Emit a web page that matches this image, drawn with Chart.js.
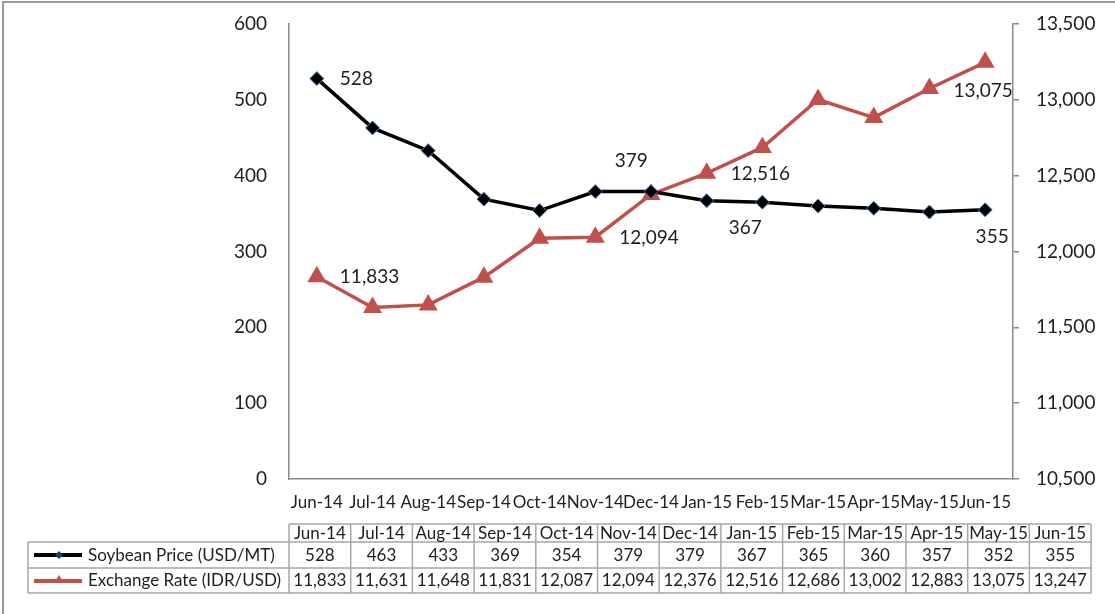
<!DOCTYPE html>
<html>
<head>
<meta charset="utf-8">
<script src="https://cdn.jsdelivr.net/npm/chart.js@4.4.0/dist/chart.umd.min.js"></script>
<style>
  body { margin: 0; background: #fff; }
  canvas { display: block; }
</style>
</head>
<body>
<canvas id="soyChart" width="1115" height="614"></canvas>
<script>
const months = ['Jun-14', 'Jul-14', 'Aug-14', 'Sep-14', 'Oct-14', 'Nov-14', 'Dec-14',
  'Jan-15', 'Feb-15', 'Mar-15', 'Apr-15', 'May-15', 'Jun-15']
const soybeanPrice = [528, 463, 433, 369, 354, 379, 379, 367, 365, 360, 357, 352, 355]
const exchangeRate = [11833, 11631, 11648, 11831, 12087, 12094, 12376, 12516, 12686, 13002, 12883, 13075, 13247]
const priceLabel = 'Soybean Price (USD/MT)'
const rateLabel = 'Exchange Rate (IDR/USD)'
// which points carry a value label
const priceLabelIdx = [0, 5, 7, 12]
const rateLabelIdx = [0, 5, 7, 11]

const FONT = 'Lato, "Open Sans", sans-serif'
const TEXT = '#1e1e1e'
const AXIS = '#8a8a8a'
const RED = '#C0504D'

const fmt = v => v.toLocaleString('en-US')

// value labels, placed beside the points
const pointLabels = {
  id: 'pointLabels',
  afterDatasetsDraw(chart) {
    const ctx = chart.ctx
    ctx.save()
    ctx.font = '19px ' + FONT
    ctx.fillStyle = TEXT
    ctx.textBaseline = 'middle'
    const place = {
      0: { 0: [23, 0, 'left'], 5: [36, -31, 'center'], 7: [22, 27, 'left'], 12: [7, 27, 'center'] },
      1: { 0: [23, 0, 'left'], 5: [24, 1, 'left'], 7: [24, 1, 'left'], 11: [24, 2, 'left'] },
    }
    const sets = [[soybeanPrice, priceLabelIdx], [exchangeRate, rateLabelIdx]]
    sets.forEach(([values, idx], d) => {
      const meta = chart.getDatasetMeta(d)
      idx.forEach(i => {
        const pt = meta.data[i]
        const [dx, dy, align] = place[d][i]
        ctx.textAlign = align
        ctx.fillText(fmt(values[i]), pt.x + dx, pt.y + dy)
      })
    })
    ctx.restore()
  }
}

// data table under the x axis, plus the outer frame
const dataTable = {
  id: 'dataTable',
  afterDraw(chart) {
    const ctx = chart.ctx
    const left = 289, colW = 61.7, labelLeft = 28
    const rows = [524, 542, 568, 593]
    const right = left + colW * months.length
    ctx.save()

    // frame
    ctx.strokeStyle = '#9a9a9a'
    ctx.lineWidth = 2
    ctx.beginPath()
    ctx.moveTo(3, 614)
    ctx.lineTo(3, 2)
    ctx.lineTo(1115, 2)
    ctx.stroke()

    // grid
    ctx.strokeStyle = '#a6a6a6'
    ctx.lineWidth = 1.5
    ctx.beginPath()
    ctx.moveTo(left, rows[0]); ctx.lineTo(right, rows[0])
    rows.slice(1).forEach(y => { ctx.moveTo(labelLeft, y); ctx.lineTo(right, y) })
    ctx.moveTo(labelLeft, rows[1]); ctx.lineTo(labelLeft, rows[3])
    for (let c = 0; c <= months.length; c++) {
      const x = left + c * colW
      ctx.moveTo(x, rows[0]); ctx.lineTo(x, rows[3])
    }
    ctx.stroke()

    // cell text
    ctx.fillStyle = TEXT
    ctx.font = '17px ' + FONT
    ctx.textAlign = 'center'
    ctx.textBaseline = 'middle'
    months.forEach((m, c) => {
      const cx = left + (c + 0.5) * colW
      ctx.fillText(m, cx, 533.5)
      ctx.fillText(fmt(soybeanPrice[c]), cx, 555.5)
      ctx.fillText(fmt(exchangeRate[c]), cx, 581)
    })
    ctx.textAlign = 'left'
    ctx.fillText(priceLabel, 88, 555.5)
    ctx.fillText(rateLabel, 88, 581)

    // legend keys
    ctx.lineWidth = 4
    ctx.strokeStyle = '#000'
    ctx.beginPath(); ctx.moveTo(34, 555); ctx.lineTo(82, 555); ctx.stroke()
    ctx.fillStyle = '#1f3d6b'
    ctx.beginPath()
    ctx.moveTo(59, 551); ctx.lineTo(63, 555); ctx.lineTo(59, 559); ctx.lineTo(55, 555)
    ctx.closePath(); ctx.fill()
    ctx.strokeStyle = RED
    ctx.beginPath(); ctx.moveTo(34, 581); ctx.lineTo(82, 581); ctx.stroke()
    ctx.fillStyle = RED
    ctx.beginPath()
    ctx.moveTo(59, 575); ctx.lineTo(64, 583); ctx.lineTo(54, 583)
    ctx.closePath(); ctx.fill()
    ctx.restore()
  }
}

// fixed axis widths; the top/bottom label overhang is left to the layout padding
const fitY = w => scale => {
  scale.width = w
  scale.paddingTop = 0
  scale.paddingBottom = 0
}

const ctxSoy = document.getElementById('soyChart')
if (ctxSoy) {
  const soyChart = {
    type: 'line',
    data: {
      labels: months,
      datasets: [
        {
          label: priceLabel,
          data: soybeanPrice,
          yAxisID: 'yPrice',
          borderColor: '#000',
          borderWidth: 3.5,
          pointStyle: 'rectRot',
          pointRadius: 7,
          pointBackgroundColor: '#000',
          pointBorderColor: '#4F81BD',
          pointBorderWidth: 1,
          tension: 0,
        },
        {
          label: rateLabel,
          data: exchangeRate,
          yAxisID: 'yRate',
          borderColor: RED,
          borderWidth: 3.5,
          pointStyle: 'triangle',
          pointRadius: 11,
          pointBackgroundColor: RED,
          pointBorderColor: RED,
          pointBorderWidth: 0,
          tension: 0,
        },
      ],
    },
    options: {
      responsive: false,
      animation: false,
      devicePixelRatio: 1,
      layout: { padding: { top: 24, left: 0, right: 0, bottom: 0 } },
      plugins: {
        legend: { display: false },
        tooltip: { enabled: false },
      },
      scales: {
        x: {
          offset: true,
          grid: { display: true, drawOnChartArea: false, drawTicks: false },
          border: { display: true, color: AXIS, width: 1.5 },
          ticks: {
            color: TEXT,
            font: { family: FONT, size: 17 },
            padding: 13,
            autoSkip: false,
            maxRotation: 0,
            minRotation: 0,
          },
          afterFit(scale) { scale.height = 135 },
        },
        yPrice: {
          position: 'left',
          min: 0,
          max: 600,
          ticks: {
            stepSize: 100,
            color: TEXT,
            font: { family: FONT, size: 19 },
            padding: 22,
          },
          grid: { display: true, drawOnChartArea: false, drawTicks: false },
          border: { display: true, color: AXIS, width: 1.5 },
          afterFit: fitY(289),
        },
        yRate: {
          position: 'right',
          min: 10500,
          max: 13500,
          ticks: {
            stepSize: 500,
            color: TEXT,
            font: { family: FONT, size: 19 },
            padding: 17,
            callback: v => fmt(v),
          },
          grid: { display: true, drawOnChartArea: false, drawTicks: true, tickLength: 6, color: AXIS, lineWidth: 1.5 },
          border: { display: true, color: AXIS, width: 1.5 },
          afterFit: fitY(1115 - 1013),
        },
      },
    },
    plugins: [pointLabels, dataTable],
  }

  window.soyChart = new Chart(ctxSoy, soyChart)
}
</script>
</body>
</html>
